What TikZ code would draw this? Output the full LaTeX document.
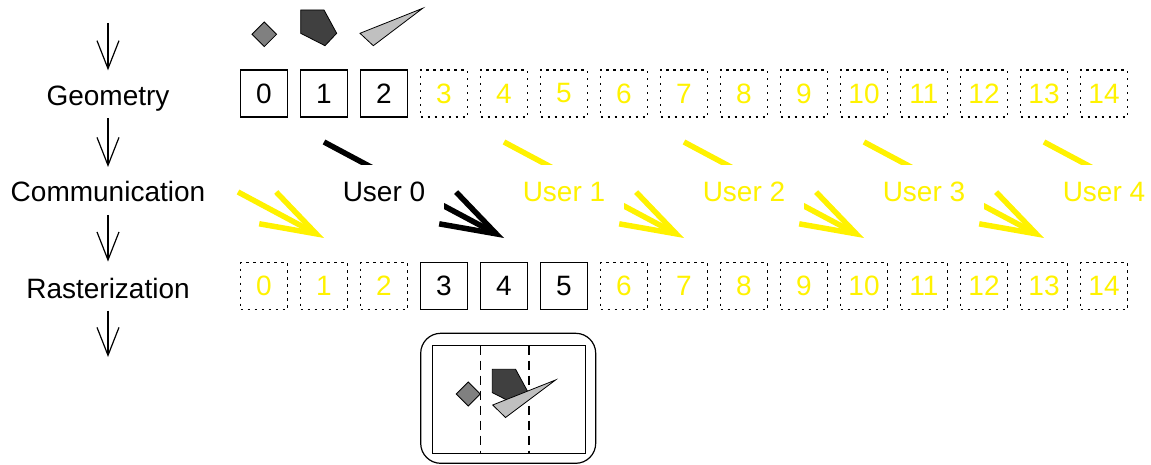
\documentclass[tikz,border=0pt]{standalone}
\usepackage{fontspec}
\setmainfont{Liberation Sans}
\usetikzlibrary{arrows.meta,calc}
\definecolor{shapemid}{HTML}{808080}
\definecolor{shapedark}{HTML}{404040}
\definecolor{shapelight}{HTML}{C0C0C0}
\begin{document}
\begin{tikzpicture}[x=1pt,y=-1pt,
  every node/.style={font=\fontsize{28}{32}\selectfont},
  cell/.style={minimum size=47pt,inner sep=0pt,line width=1.2pt},
  fullcell/.style={cell,draw},
  idlecell/.style={cell,draw,dash pattern=on 2.2pt off 4.8pt,text=yellow},
  stage/.style={anchor=base,inner sep=0pt,text height=20.5pt,text depth=6pt},
  flow/.style={line width=1.2pt,-{Straight Barb[length=28pt,width=22pt]}},
  send/.style={line width=5.5pt,-{Straight Barb[length=55pt,width=36pt,sharp]}},
  user/.style={anchor=base,fill=white,inner xsep=19pt,inner ysep=16.7pt,
    text height=20pt,text depth=0pt},
  poly/.style={draw,line width=0.8pt,line join=miter},
  strip/.style={line width=1.2pt,dash pattern=on 9pt off 6pt}]

\useasboundingbox (0,0) rectangle (1151,465);
\clip (0,0) rectangle (1151,465);

% pipeline stages
\node[stage] (geo) at (108,106) {Geometry};
\node[stage] (com) at (108,201.7) {Communication};
\node[stage] (ras) at (108,298.3) {Rasterization};
\coordinate (in) at (108,23);
\coordinate (out) at (108,357);
\draw[flow,shorten >=15pt] (in) -- (geo);
\draw[flow,shorten <=6pt,shorten >=14pt] (geo) -- (com);
\draw[flow,shorten <=7pt,shorten >=16pt] (com) -- (ras);
\draw[flow,shorten <=6pt] (ras) -- (out);

% input primitives
\draw[poly,fill=shapemid] (264.3,22) -- (276.6,34.3) -- (264.3,46.6) -- (252,34.3) -- cycle;
\draw[poly,fill=shapedark] (300.7,10) -- (324,10) -- (336.7,33.3) -- (325,45.7) -- (300.7,33.3) -- cycle;
\draw[poly,fill=shapelight] (360,33.3) -- (422.7,8.3) -- (373.3,45.7) -- cycle;

% geometry and rasterization cells
\foreach \i in {0,...,14} {
  \ifnum\i<3
    \node[fullcell] (g\i) at (264+60*\i,93.5) {\i};
  \else
    \node[idlecell] (g\i) at (264+60*\i,93.5) {\i};
  \fi
  \ifnum\i>2 \ifnum\i<6
    \node[fullcell] (r\i) at (264+60*\i,286) {\i};
  \else
    \node[idlecell] (r\i) at (264+60*\i,286) {\i};
  \fi \else
    \node[idlecell] (r\i) at (264+60*\i,286) {\i};
  \fi
}

% redistribution between users
\foreach \k in {-1,...,4} {
  \coordinate (s\k) at (324+180*\k,142);
  \coordinate (e\k) at (504+180*\k,238);
}
\coordinate (cut) at (238,192);
\draw[send,yellow] (cut) -- (e-1);
\draw[send,black] (s0) -- (e0);
\foreach \k in {1,...,4} \draw[send,yellow] (s\k) -- (e\k);

\node[user] (u0) at (384,201.7) {User 0};
\foreach \k in {1,...,4}
  \node[user,text=yellow] (u\k) at (384+180*\k,201.7) {User \k};

% resulting image split into strips
\draw[line width=1.2pt,rounded corners=20pt] (420.7,333.3) rectangle (595.7,463.3);
\draw[line width=1.2pt] (432.7,345.7) rectangle (585.7,453.3);
\draw[strip] (480.7,345.7) -- (480.7,453.3);
\draw[strip] (529,345.7) -- (529,453.3);
\draw[poly,fill=shapemid] (468.3,382) -- (480.3,394) -- (468.3,406) -- (456.3,394) -- cycle;
\draw[poly,fill=shapedark] (492.3,369.3) -- (515.6,369.3) -- (528.3,392.6) -- (516.6,405) -- (492.3,392.6) -- cycle;
\draw[poly,fill=shapelight] (492.7,405) -- (555.5,380) -- (505.5,417.5) -- cycle;
\end{tikzpicture}
\end{document}
